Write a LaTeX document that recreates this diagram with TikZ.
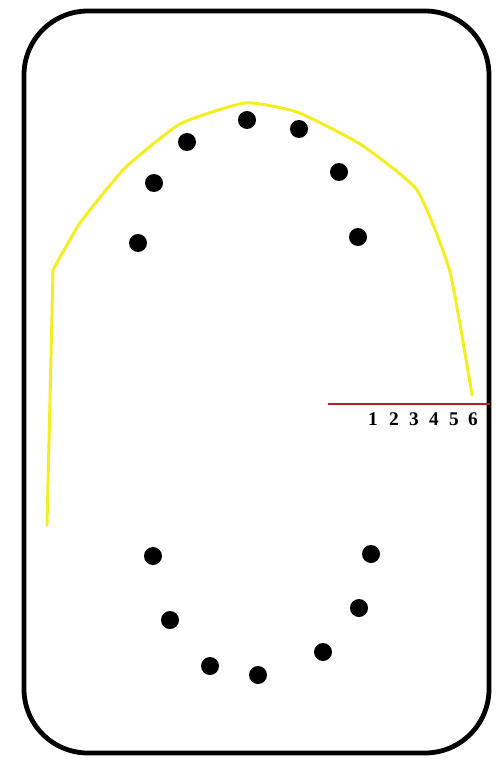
\documentclass[tikz,border=0pt]{standalone}
\usepackage{fontspec}
\setmainfont{Liberation Serif}
\definecolor{hiyellow}{RGB}{245,238,30}
\definecolor{rulered}{RGB}{178,34,34}
\tikzset{
  tooth/.style={circle,fill=black,inner sep=0pt,minimum size=13.5pt},
  num/.style={font=\fontsize{14.5}{15}\bfseries\selectfont,inner sep=0pt},
  outline/.style={draw=black,line width=3.6pt,rounded corners=48pt},
  arch/.style={draw=hiyellow,line width=2.2pt,line join=round,line cap=round},
  redrule/.style={draw=rulered,line width=2pt}
}
\begin{document}
\begin{tikzpicture}[x=0.75pt,y=-0.75pt]
\useasboundingbox (0,0) rectangle (500,759);
\fill[white] (0,0) rectangle (500,759);
% outer tray
\draw[outline] (24,11) rectangle (489,753);
% yellow arch
\draw[arch] (47,525) -- (50,400) -- (53,270)
  plot[smooth,tension=0.3] coordinates {(53,270) (80,223) (125,168) (180,124) (245,103) (297,112) (360,144) (417,190) (450,272) (472,395)};
% upper teeth
\node[tooth] (u1) at (138,243) {};
\node[tooth] (u2) at (154,183) {};
\node[tooth] (u3) at (187,142) {};
\node[tooth] (u4) at (247,120) {};
\node[tooth] (u5) at (299,129) {};
\node[tooth] (u6) at (339,172) {};
\node[tooth] (u7) at (358,237) {};
% lower teeth
\node[tooth] (l1) at (153,556) {};
\node[tooth] (l2) at (170,620) {};
\node[tooth] (l3) at (210,666) {};
\node[tooth] (l4) at (258,675) {};
\node[tooth] (l5) at (323,652) {};
\node[tooth] (l6) at (359,608) {};
\node[tooth] (l7) at (371,554) {};
% red scale
\coordinate (s0) at (328,404);
\coordinate (s1) at (490,404);
\draw[redrule] (s0) -- (s1);
\node[num] (n1) at (373,419) {1};
\node[num] (n2) at (394,419) {2};
\node[num] (n3) at (414,419) {3};
\node[num] (n4) at (434,419) {4};
\node[num] (n5) at (454,419) {5};
\node[num] (n6) at (473,419) {6};
\end{tikzpicture}
\end{document}
